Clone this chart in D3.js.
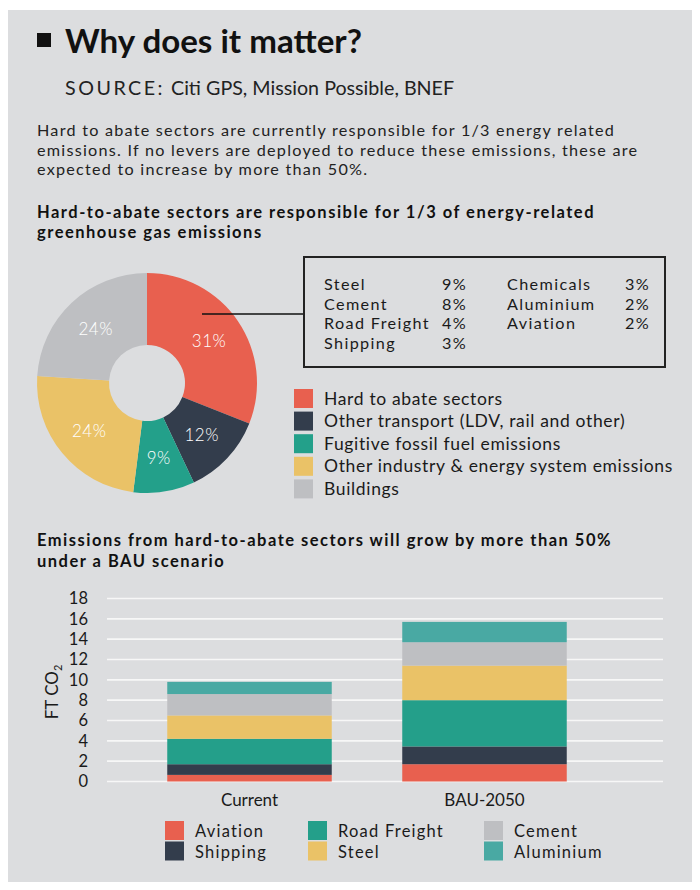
<!DOCTYPE html>
<html>
<head>
<meta charset="utf-8">
<script src="https://cdn.jsdelivr.net/npm/d3@7"></script>
<style>
  html, body { margin: 0; padding: 0; background: #ffffff; }
  svg { display: block; }
  text { font-family: "Lato", "Open Sans", sans-serif; }
</style>
</head>
<body>
<svg id="chart" width="700" height="890"></svg>
<script>
// ---------- DATA ----------
const pieCategories = [
  "Hard to abate sectors",
  "Other transport (LDV, rail and other)",
  "Fugitive fossil fuel emissions",
  "Other industry & energy system emissions",
  "Buildings"
];
const pieValues = [31, 12, 9, 24, 24];
const pieColors = ["#E8604F", "#333D4C", "#23A08A", "#EAC267", "#BEBFC2"];

const sectorNamesLeft = ["Steel", "Cement", "Road Freight", "Shipping"];
const sectorSharesLeft = ["9%", "8%", "4%", "3%"];
const sectorNamesRight = ["Chemicals", "Aluminium", "Aviation"];
const sectorSharesRight = ["3%", "2%", "2%"];

const barCategories = ["Current", "BAU-2050"];
const barSeries = ["Aviation", "Shipping", "Road Freight", "Steel", "Cement", "Aluminium"];
const aviation    = [0.65, 1.7];
const shipping    = [1.05, 1.75];
const roadFreight = [2.5, 4.55];
const steel       = [2.3, 3.4];
const cement      = [2.1, 2.3];
const aluminium   = [1.2, 2.0];
const barColors = ["#E8604F", "#333D4C", "#249F8A", "#EAC267", "#BEBFC2", "#49A9A3"];
const yTicks = [0, 2, 4, 6, 8, 10, 12, 14, 16, 18];

// ---------- HELPERS ----------
// widen a group of texts with letter-spacing so that a reference node reaches a target width
function fitSpacing(sel, refNode, target) {
  const w = refNode.getComputedTextLength();
  const n = refNode.textContent.length;
  const ls = Math.max(0, (target - w) / n);
  sel.attr("letter-spacing", ls);
  return ls;
}
function fitSize(sel, refNode, target, base) {
  const w = refNode.getComputedTextLength();
  sel.attr("font-size", base * target / w);
}

// ---------- SETUP ----------
const svg = d3.select("#chart");
const ink = "#1a1a1a";

svg.append("rect").attr("x", 8).attr("y", 10).attr("width", 684).attr("height", 872)
  .attr("fill", "#DCDDDF");

// Title
svg.append("rect").attr("x", 37).attr("y", 33).attr("width", 14).attr("height", 14).attr("fill", "#111");
const title = svg.append("text").attr("x", 65).attr("y", 53).attr("font-size", 29).attr("font-weight", 700)
  .attr("fill", "#111").text("Why does it matter?");
fitSize(title, title.node(), 297, 29);

const src = svg.append("text").attr("x", 65).attr("y", 95).attr("font-size", 18).attr("fill", "#222");
src.append("tspan").attr("letter-spacing", 2.5).text("SOURCE:");
src.append("tspan").attr("dx", 6).text("Citi GPS, Mission Possible, BNEF");
fitSize(src, src.node(), 385, 18);

const para = [
  "Hard to abate sectors are currently responsible for 1/3 energy related",
  "emissions. If no levers are deployed to reduce these emissions, these are",
  "expected to increase by more than 50%."
];
const paraT = svg.append("g").attr("fill", "#222").selectAll("text").data(para).join("text")
  .attr("x", 37).attr("y", (d, i) => 136 + i * 19.5)
  .attr("font-size", 16.2).text(d => d);
fitSpacing(paraT, paraT.nodes()[0], 578);

const sub1 = ["Hard-to-abate sectors are responsible for 1/3 of energy-related", "greenhouse gas emissions"];
const sub1T = svg.append("g").attr("fill", "#111").selectAll("text").data(sub1).join("text")
  .attr("x", 37).attr("y", (d, i) => 218 + i * 20)
  .attr("font-size", 16.5).attr("font-weight", 700).text(d => d);
fitSpacing(sub1T, sub1T.nodes()[0], 558);

// ---------- DONUT ----------
const cx = 147, cy = 383;
const pie = d3.pie().sort(null).value(d => d)(pieValues);
const arc = d3.arc().innerRadius(38).outerRadius(110);
const labelArc = d3.arc().innerRadius(74).outerRadius(76);
const gPie = svg.append("g").attr("transform", `translate(${cx},${cy})`);
gPie.selectAll("path").data(pie).join("path")
  .attr("d", arc).attr("fill", (d, i) => pieColors[i]);
gPie.selectAll("text").data(pie).join("text")
  .attr("transform", d => `translate(${labelArc.centroid(d)})`)
  .attr("text-anchor", "middle").attr("dy", "0.38em")
  .attr("font-size", 17).attr("font-weight", 300).attr("letter-spacing", 0.5).attr("fill", "#fff")
  .text(d => d.data + "%");

// leader line
svg.append("line")
  .attr("x1", cx + 55).attr("y1", 314).attr("x2", 304).attr("y2", 314)
  .attr("stroke", "#111").attr("stroke-width", 1.6);

// breakdown box
svg.append("rect").attr("x", 304).attr("y", 257).attr("width", 361).attr("height", 110)
  .attr("fill", "none").attr("stroke", "#222").attr("stroke-width", 2);
const boxRow = i => 290 + i * 19.7;
const gBox = svg.append("g").attr("font-size", 16.2).attr("fill", ink);
gBox.selectAll(".nl").data(sectorNamesLeft).join("text").attr("class", "nl")
  .attr("x", 324).attr("y", (d, i) => boxRow(i)).text(d => d);
gBox.selectAll(".sl").data(sectorSharesLeft).join("text").attr("class", "sl")
  .attr("x", 442).attr("y", (d, i) => boxRow(i)).text(d => d);
gBox.selectAll(".nr").data(sectorNamesRight).join("text").attr("class", "nr")
  .attr("x", 507).attr("y", (d, i) => boxRow(i)).text(d => d);
gBox.selectAll(".sr").data(sectorSharesRight).join("text").attr("class", "sr")
  .attr("x", 625).attr("y", (d, i) => boxRow(i)).text(d => d);
fitSpacing(gBox.selectAll("text"), gBox.selectAll(".nl").nodes()[2], 106);

// pie legend
const gLeg = svg.append("g");
const legRows = gLeg.selectAll("g").data(pieCategories).join("g")
  .attr("transform", (d, i) => `translate(294, ${389 + i * 22.6})`);
legRows.append("rect").attr("width", 19).attr("height", 19).attr("fill", (d, i) => pieColors[i]);
const legT = legRows.append("text").attr("x", 30).attr("y", 15.5).attr("font-size", 17.5).attr("fill", ink).text(d => d);
fitSpacing(legT, legT.nodes()[3], 349);

// ---------- STACKED BARS ----------
const sub2 = ["Emissions from hard-to-abate sectors will grow by more than 50%", "under a BAU scenario"];
const sub2T = svg.append("g").attr("fill", "#111").selectAll("text").data(sub2).join("text")
  .attr("x", 37).attr("y", (d, i) => 546 + i * 21)
  .attr("font-size", 16.5).attr("font-weight", 700).text(d => d);
fitSpacing(sub2T, sub2T.nodes()[0], 575);

const y = d3.scaleLinear().domain([0, 18]).range([781.5, 598.5]);
const x = d3.scaleBand().domain(barCategories).range([132, 602]).paddingInner(0.3).paddingOuter(0.15);

// gridlines
svg.append("g").selectAll("line").data(yTicks).join("line")
  .attr("x1", 107).attr("x2", 663)
  .attr("y1", d => y(d)).attr("y2", d => y(d))
  .attr("stroke", "#F7F7F7").attr("stroke-width", 1.6);

// y axis
const yAxis = d3.axisLeft(y).tickValues(yTicks).tickSize(0).tickPadding(0);
const gy = svg.append("g").attr("transform", "translate(88,0)").call(yAxis);
gy.select(".domain").remove();
gy.selectAll("text").attr("font-size", 16.5).attr("fill", ink)
  .attr("font-family", "Lato, sans-serif").attr("font-weight", 400);

// y label
const yl = svg.append("text").attr("transform", "translate(58,692) rotate(-90)")
  .attr("text-anchor", "middle").attr("font-size", 17).attr("font-weight", 400).attr("fill", ink);
yl.append("tspan").text("FT CO");
yl.append("tspan").attr("font-size", 11).attr("dy", 4).text("2");

// stacks
const seriesVals = [aviation, shipping, roadFreight, steel, cement, aluminium];
const table = barCategories.map((c, j) => {
  const row = { cat: c };
  barSeries.forEach((s, k) => { row[s] = seriesVals[k][j]; });
  return row;
});
const stacked = d3.stack().keys(barSeries)(table);
svg.append("g").selectAll("g").data(stacked).join("g")
  .attr("fill", (d, i) => barColors[i])
  .selectAll("rect").data(d => d).join("rect")
  .attr("x", d => x(d.data.cat))
  .attr("width", x.bandwidth())
  .attr("y", d => y(d[1]))
  .attr("height", d => y(d[0]) - y(d[1]));

// x axis labels
const xAxis = d3.axisBottom(x).tickSize(0).tickPadding(0);
const gx = svg.append("g").attr("transform", "translate(0,794)").call(xAxis);
gx.select(".domain").remove();
gx.selectAll("text").attr("font-size", 17).attr("fill", ink)
  .attr("font-family", "Lato, sans-serif").attr("font-weight", 400);

// bar legend (column-major, 2 rows)
const legX = [165, 308, 484];
const gLeg2 = svg.append("g");
const leg2 = gLeg2.selectAll("g").data(barSeries).join("g")
  .attr("transform", (d, i) => `translate(${legX[Math.floor(i / 2)]}, ${821 + (i % 2) * 20.5})`);
leg2.append("rect").attr("width", 19).attr("height", 19).attr("fill", (d, i) => barColors[i]);
const leg2T = leg2.append("text").attr("x", 30).attr("y", 16).attr("font-size", 16.5).attr("fill", ink).text(d => d);
fitSpacing(leg2T, leg2T.nodes()[2], 106);
</script>
</body>
</html>
